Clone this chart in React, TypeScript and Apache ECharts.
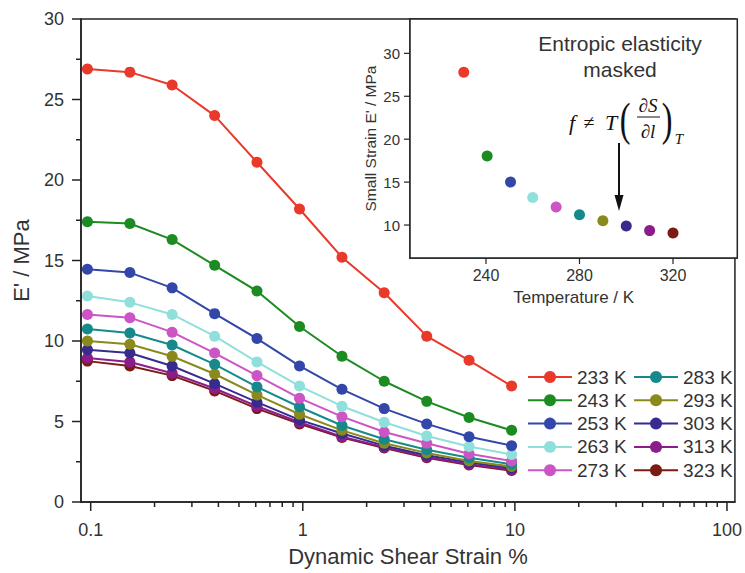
import React, { useEffect, useRef } from "react";
import * as echarts from "echarts";

const strain = [0.0965, 0.153, 0.242, 0.384, 0.608, 0.965, 1.53, 2.42, 3.84, 6.08, 9.65];
const seriesNames = ["233 K", "243 K", "253 K", "263 K", "273 K", "283 K", "293 K", "303 K", "313 K", "323 K"];
const colors = ["#e8392b", "#1c8c22", "#3347aa", "#8fe0da", "#cc55c6", "#168a8a", "#8a8a1c", "#372b8e", "#8c1c8c", "#7c1a14"];
const e233 = [26.9, 26.7, 25.9, 24.0, 21.1, 18.2, 15.2, 13.0, 10.3, 8.8, 7.2];
const e243 = [17.4, 17.3, 16.3, 14.7, 13.1, 10.9, 9.05, 7.5, 6.25, 5.25, 4.45];
const e253 = [14.45, 14.25, 13.3, 11.7, 10.15, 8.45, 7.0, 5.8, 4.85, 4.05, 3.5];
const e263 = [12.8, 12.4, 11.65, 10.3, 8.7, 7.2, 5.95, 4.95, 4.1, 3.45, 2.95];
const e273 = [11.65, 11.45, 10.55, 9.25, 7.85, 6.45, 5.3, 4.35, 3.65, 3.0, 2.55];
const e283 = [10.75, 10.5, 9.75, 8.55, 7.15, 5.9, 4.75, 3.9, 3.25, 2.75, 2.35];
const e293 = [10.0, 9.8, 9.05, 7.95, 6.65, 5.45, 4.45, 3.65, 3.05, 2.55, 2.2];
const e303 = [9.45, 9.25, 8.45, 7.35, 6.2, 5.1, 4.25, 3.5, 2.9, 2.45, 2.1];
const e313 = [8.95, 8.7, 8.0, 7.05, 5.95, 4.95, 4.05, 3.4, 2.8, 2.35, 2.0];
const e323 = [8.75, 8.45, 7.85, 6.9, 5.8, 4.85, 4.0, 3.35, 2.75, 2.3, 1.95];
const allValues = [e233, e243, e253, e263, e273, e283, e293, e303, e313, e323];

const xMajorTicks = [0.1, 1, 10, 100];
const xMinorTicks = [0.2, 0.3, 0.4, 0.5, 0.6, 0.7, 0.8, 0.9, 2, 3, 4, 5, 6, 7, 8, 9, 20, 30, 40, 50, 60, 70, 80, 90];
const yMajorTicks = [0, 5, 10, 15, 20, 25, 30];
const yMinorTicks = [2.5, 7.5, 12.5, 17.5, 22.5, 27.5];

const insetTemps = [230.5, 240.5, 250.5, 260, 270, 280, 290, 300, 310, 320];
const insetModulus = [27.8, 18.05, 15.0, 13.2, 12.1, 11.2, 10.5, 9.88, 9.35, 9.07];
const insetXTicks = [240, 280, 320];
const insetYTicks = [10, 15, 20, 25, 30];

const SANS = "'Liberation Sans', Arial, sans-serif";
const SERIF = "'Liberation Serif', 'Times New Roman', serif";
const AX = "#222";
const TXT = "#333";

// tick mark drawn through the axis scale: dir "x" = tick on bottom axis, "y" = tick on left axis
function tickSeries(values: number[], xi: number, yi: number, dir: "x" | "y", len: number, width: number) {
  return {
    type: "custom",
    coordinateSystem: "cartesian2d",
    xAxisIndex: xi,
    yAxisIndex: yi,
    clip: false,
    silent: true,
    z: 40,
    data: values.map((v) => [v]),
    encode: dir === "x" ? { x: 0 } : { y: 0 },
    renderItem: (params: any, api: any) => {
      const cs = params.coordSys;
      const v = api.value(0);
      if (dir === "x") {
        const px = api.coord([v, 1])[0];
        const py = cs.y + cs.height;
        return { type: "line", shape: { x1: px, y1: py, x2: px, y2: py + len }, style: { stroke: AX, lineWidth: width } };
      }
      const py = api.coord([1, v])[1];
      const px = cs.x;
      return { type: "line", shape: { x1: px, y1: py, x2: px - len, y2: py }, style: { stroke: AX, lineWidth: width } };
    },
  };
}

export default function App() {
  const ref = useRef<HTMLDivElement>(null);
  useEffect(() => {
    document.body.style.margin = "0";
    const chart = echarts.init(ref.current!, null, { renderer: "svg" });
    const mainSeries = seriesNames.map((name, i) => ({
      name,
      type: "line",
      xAxisIndex: 0,
      yAxisIndex: 0,
      data: strain.map((s, j) => [s, allValues[i][j]]),
      symbol: "circle",
      symbolSize: 11,
      lineStyle: { width: 2, color: colors[i] },
      itemStyle: { color: colors[i] },
      z: 20 - i,
    }));
    const legendCommon = {
      orient: "vertical",
      top: 367.5,
      padding: 0,
      itemWidth: 44,
      itemHeight: 15,
      itemGap: 4.3,
      textStyle: { fontSize: 19, color: TXT, fontFamily: SANS },
    };
    const option: any = {
      animation: false,
      backgroundColor: "#fff",
      grid: [
        { left: 81, right: 7.7, top: 19, bottom: 71, show: true, borderColor: AX, borderWidth: 1.5, backgroundColor: "transparent" },
        { left: 410, right: 7.7, top: 19, bottom: 315, show: true, borderColor: AX, borderWidth: 1.5, backgroundColor: "#fff", z: 5 },
      ],
      legend: [
        { ...legendCommon, left: 527, data: seriesNames.slice(0, 5) },
        { ...legendCommon, left: 633, data: seriesNames.slice(5) },
      ],
      xAxis: [
        {
          type: "log",
          gridIndex: 0,
          min: 0.09,
          max: 109,
          logBase: 10,
          position: "bottom",
          axisLine: { show: true, onZero: false, lineStyle: { color: AX, width: 1.5 } },
          axisTick: { show: false },
          axisLabel: { customValues: xMajorTicks, fontSize: 18, color: TXT, fontFamily: SANS, margin: 19, formatter: (v: number) => String(v) },
          splitLine: { show: false },
          name: "Dynamic Shear Strain %",
          nameLocation: "middle",
          nameGap: 43,
          nameTextStyle: { fontSize: 22, color: TXT, fontFamily: SANS },
        },
        {
          type: "value",
          gridIndex: 1,
          min: 207.5,
          max: 347.5,
          axisLine: { show: true, onZero: false, lineStyle: { color: AX, width: 1.5 } },
          axisTick: { show: false },
          axisLabel: { customValues: insetXTicks, fontSize: 16, color: TXT, fontFamily: SANS, margin: 9 },
          splitLine: { show: false },
          name: "Temperature / K",
          nameLocation: "middle",
          nameGap: 31,
          nameTextStyle: { fontSize: 17, color: TXT, fontFamily: SANS },
        },
      ],
      yAxis: [
        {
          type: "value",
          gridIndex: 0,
          min: 0,
          max: 30,
          interval: 5,
          axisLine: { show: true, onZero: false, lineStyle: { color: AX, width: 1.5 } },
          axisTick: { show: false },
          axisLabel: { fontSize: 18, color: TXT, fontFamily: SANS, margin: 17 },
          splitLine: { show: false },
          name: "E' / MPa",
          nameLocation: "middle",
          nameGap: 49,
          nameTextStyle: { fontSize: 22, color: TXT, fontFamily: SANS },
        },
        {
          type: "value",
          gridIndex: 1,
          min: 6.16,
          max: 34,
          axisLine: { show: true, onZero: false, lineStyle: { color: AX, width: 1.5 } },
          axisTick: { show: false },
          axisLabel: { customValues: insetYTicks, fontSize: 15, color: TXT, fontFamily: SANS, margin: 10 },
          splitLine: { show: false },
          name: "Small Strain E' / MPa",
          nameLocation: "middle",
          nameGap: 32,
          nameTextStyle: { fontSize: 15.5, color: TXT, fontFamily: SANS },
        },
      ],
      series: [
        ...mainSeries,
        {
          type: "scatter",
          xAxisIndex: 1,
          yAxisIndex: 1,
          symbol: "circle",
          symbolSize: 11,
          data: insetTemps.map((t, i) => ({ value: [t, insetModulus[i]], itemStyle: { color: colors[i], opacity: 1 } })),
          z: 30,
        },
        tickSeries(xMajorTicks, 0, 0, "x", 9, 1.5),
        tickSeries(xMinorTicks, 0, 0, "x", 5, 1.5),
        tickSeries(yMajorTicks, 0, 0, "y", 9, 1.5),
        tickSeries(yMinorTicks, 0, 0, "y", 5, 1.5),
        tickSeries(insetXTicks, 1, 1, "x", 6, 1.2),
        tickSeries(insetYTicks, 1, 1, "y", 6, 1.2),
      ],
      graphic: [
        { type: "text", z: 100, x: 620, y: 43, style: { text: "Entropic elasticity", fontSize: 21, fill: TXT, fontFamily: SANS, align: "center", verticalAlign: "middle" } },
        { type: "text", z: 100, x: 620, y: 69, style: { text: "masked", fontSize: 21, fill: TXT, fontFamily: SANS, align: "center", verticalAlign: "middle" } },
        { type: "text", z: 100, x: 572, y: 122, style: { text: "f", fontSize: 22, fontStyle: "italic", fill: "#111", fontFamily: SERIF, align: "center", verticalAlign: "middle" } },
        { type: "text", z: 100, x: 589, y: 122, style: { text: "≠", fontSize: 20, fill: "#111", fontFamily: SERIF, align: "center", verticalAlign: "middle" } },
        { type: "text", z: 100, x: 611, y: 122, style: { text: "T", fontSize: 22, fontStyle: "italic", fill: "#111", fontFamily: SERIF, align: "center", verticalAlign: "middle" } },
        { type: "text", z: 100, x: 625, y: 120, scaleX: 0.7, style: { text: "(", fontSize: 46, fill: "#111", fontFamily: SERIF, align: "center", verticalAlign: "middle" } },
        { type: "text", z: 100, x: 648, y: 105, style: { text: "∂S", fontSize: 19, fontStyle: "italic", fill: "#111", fontFamily: SERIF, align: "center", verticalAlign: "middle" } },
        { type: "line", z: 100, shape: { x1: 637, y1: 117, x2: 660, y2: 117 }, style: { stroke: "#111", lineWidth: 1 } },
        { type: "text", z: 100, x: 648, y: 131, style: { text: "∂l", fontSize: 19, fontStyle: "italic", fill: "#111", fontFamily: SERIF, align: "center", verticalAlign: "middle" } },
        { type: "text", z: 100, x: 667, y: 120, scaleX: 0.7, style: { text: ")", fontSize: 46, fill: "#111", fontFamily: SERIF, align: "center", verticalAlign: "middle" } },
        { type: "text", z: 100, x: 679, y: 139, style: { text: "T", fontSize: 15, fontStyle: "italic", fill: "#111", fontFamily: SERIF, align: "center", verticalAlign: "middle" } },
        { type: "line", z: 100, shape: { x1: 619, y1: 143, x2: 619, y2: 199 }, style: { stroke: "#111", lineWidth: 2 } },
        { type: "polygon", z: 100, shape: { points: [[614.5, 195], [623.5, 195], [619, 211]] }, style: { fill: "#111" } },
      ],
    };
    chart.setOption(option);
    return () => chart.dispose();
  }, []);
  return <div ref={ref} style={{ width: 745, height: 573 }} />;
}
